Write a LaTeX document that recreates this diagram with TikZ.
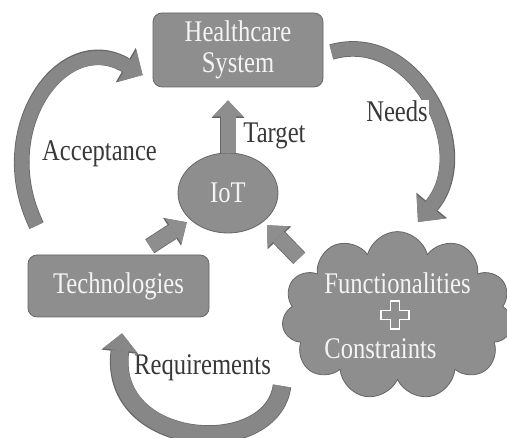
\documentclass[tikz,border=0pt]{standalone}
\usepackage{fontspec}
\setmainfont[FakeStretch=0.82]{Liberation Serif}
\usetikzlibrary{shapes.geometric,shapes.symbols,arrows.meta,calc}
\definecolor{boxgray}{HTML}{8E8E8E}
\definecolor{bandgray}{HTML}{878787}
\definecolor{edgegray}{HTML}{666666}
\definecolor{boxtext}{HTML}{F4F4F4}
\definecolor{labelgray}{HTML}{383838}
\newcommand{\dfont}{\fontsize{30}{31}\selectfont}
\begin{document}
\begin{tikzpicture}[x=1pt, y=1pt,
    graynode/.style={draw=edgegray, line width=0.8pt, fill=boxgray, text=boxtext, font=\dfont, inner sep=2pt},
    sysbox/.style={graynode, rounded corners=9pt, align=center},
    lbl/.style={fill=white, text=labelgray, font=\dfont, inner sep=1pt, anchor=base},
    band/.style={draw=bandgray, line width=14pt},
    bandedge/.style={draw=edgegray, line width=15.6pt},
    blockarrow/.style={draw=boxgray, line width=15pt,
      -{Triangle[width=30pt,length=16pt,line width=0pt]},
      preaction={draw=edgegray, line width=16.6pt, -{Triangle[width=33pt,length=17.5pt,line width=0pt]}}}]
  \useasboundingbox (0,0) rectangle (507,438);

  % the four blocks
  \node[sysbox, minimum width=170pt, minimum height=74pt] (hc) at (238,388) {Healthcare\\System};
  \node[graynode, ellipse, minimum width=100pt, minimum height=80pt] (iot) at (228,245) {IoT};
  \node[sysbox, minimum width=181pt, minimum height=62pt] (tech) at (118.5,152) {Technologies};
  \node[graynode, cloud, cloud puffs=11, cloud ignores aspect, minimum width=222pt, minimum height=168pt, align=left] (fc) at (397.5,122.3) {Functionalities\\[34pt]Constraints};
  \draw[fill=boxgray, draw=white, line width=1.2pt] ([shift={(-2.5,0.7)}]fc.center) ++(-4.75,14) -- ++(9.5,0) -- ++(0,-9.25) -- ++(9.25,0) -- ++(0,-9.5) -- ++(-9.25,0) -- ++(0,-9.25) -- ++(-9.5,0) -- ++(0,9.25) -- ++(-9.25,0) -- ++(0,9.5) -- ++(9.25,0) -- cycle;

  % straight arrows into and out of IoT
  \draw[blockarrow] (iot.north) -- ($(iot.north |- hc.south)+(0,-13)$);
  \draw[blockarrow] ([shift={(-42.6,-24.7)}]iot.south west) -- ([shift={(-5.6,-0.7)}]iot.south west);
  \draw[blockarrow] ([shift={(35.6,-36.7)}]iot.south east) -- ([shift={(3.6,-3.7)}]iot.south east);

  % curved arrows round the cycle
  \coordinate (acc-a) at ([shift={(9,29)}]tech.north west);
  \coordinate (acc-b) at ([shift={(-10,-25)}]hc.west);
  \coordinate (nd-a) at ([shift={(8,-2)}]hc.east);
  \coordinate (nd-b) at ([shift={(20.5,93.7)}]fc.center);
  \coordinate (rq-a) at ([shift={(-115.5,-70.3)}]fc.center);
  \coordinate (rq-b) at ([shift={(3.5,-16)}]tech.south);
  \draw[band, -{Triangle[width=37pt,length=18pt,line width=0pt]},
    preaction={bandedge, -{Triangle[width=40pt,length=19.5pt,line width=0pt]}}]
    (acc-a) .. controls (-10,308) and (62,410) .. (acc-b);
  \draw[band, -{Triangle[width=37pt,length=20pt,line width=0pt]},
    preaction={bandedge, -{Triangle[width=40pt,length=21.5pt,line width=0pt]}}]
    (nd-a) .. controls (415,410) and (478,288) .. (nd-b);
  \draw[band, line width=17pt, -{Triangle[width=34pt,length=17pt,line width=0pt]},
    preaction={bandedge, line width=18.6pt, -{Triangle[width=37pt,length=18.5pt,line width=0pt]}}]
    (rq-a) .. controls (272,-22) and (108,-12) .. (rq-b);

  % labels
  \node[lbl] (acc) at (99.5,277) {Acceptance};
  \node[lbl] (nd) at (397,316) {Needs};
  \node[lbl] (tg) at (274.5,295) {Target};
  \node[lbl] (rq) at (202.5,63) {Requirements};
\end{tikzpicture}
\end{document}
